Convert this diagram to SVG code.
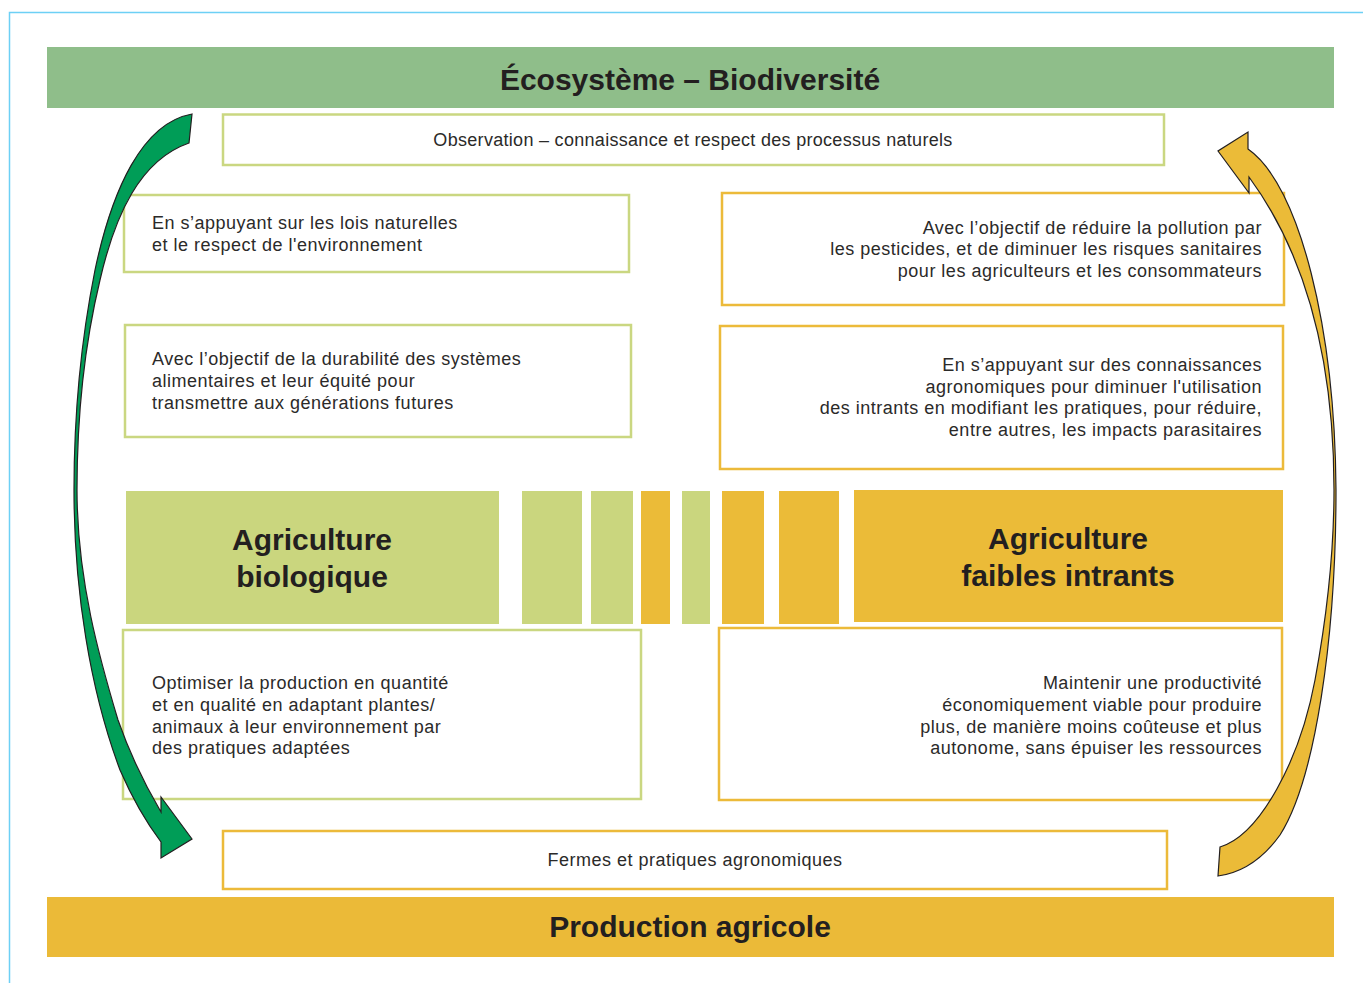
<svg xmlns="http://www.w3.org/2000/svg" width="1363" height="983" viewBox="0 0 1363 983">
<style>
.bar-g{fill:#8FBE8A}
.bar-y{fill:#EBBA38}
.box-g{fill:#FFFFFF;stroke:#CAD781;stroke-width:2.5}
.box-y{fill:#FFFFFF;stroke:#ECBA3A;stroke-width:2.5}
.fill-g{fill:#CAD67E}
.fill-y{fill:#EBBB38}
.title{font-family:"Liberation Sans",Arial,sans-serif;font-weight:bold;font-size:30px;fill:#231F20;text-anchor:middle}
.head{font-family:"Liberation Sans",Arial,sans-serif;font-weight:bold;font-size:30px;fill:#231F20;text-anchor:middle}
.body{font-family:"Liberation Sans",Arial,sans-serif;font-size:18px;letter-spacing:0.5px;fill:#2B2A29}
.obs{letter-spacing:0.3px}
.mid{text-anchor:middle}
.end{text-anchor:end}
.arrow{stroke:#231F20;stroke-width:1.2;stroke-linejoin:miter}
</style>
<rect width="1363" height="983" fill="#FFFFFF"/>
<g id="frame">
<path d="M9.5,983 L9.5,12.5 L1363,12.5" fill="none" stroke="#6DD0F5" stroke-width="1.5"/>
</g>
<g id="ecosysteme">
<rect class="bar-g" x="47" y="47" width="1287" height="61"/>
<text class="title" x="690" y="90">Écosystème – Biodiversité</text>
</g>
<g id="observation">
<rect class="box-g" x="223" y="114.5" width="941" height="50.5"/>
<text class="body obs mid" x="693" y="146">Observation – connaissance et respect des processus naturels</text>
</g>
<g id="lois-naturelles">
<rect class="box-g" x="124" y="195" width="505" height="77"/>
<text class="body" x="152" y="229">En s’appuyant sur les lois naturelles</text>
<text class="body" x="152" y="251">et le respect de l'environnement</text>
</g>
<g id="durabilite">
<rect class="box-g" x="125" y="325" width="506" height="112"/>
<text class="body" x="152" y="365">Avec l’objectif de la durabilité des systèmes</text>
<text class="body" x="152" y="387">alimentaires et leur équité pour</text>
<text class="body" x="152" y="409">transmettre aux générations futures</text>
</g>
<g id="pollution">
<rect class="box-y" x="722" y="193" width="562" height="112"/>
<text class="body end" x="1262" y="234">Avec l’objectif de réduire la pollution par</text>
<text class="body end" x="1262" y="255">les pesticides, et de diminuer les risques sanitaires</text>
<text class="body end" x="1262" y="277">pour les agriculteurs et les consommateurs</text>
</g>
<g id="connaissances">
<rect class="box-y" x="720" y="326" width="563" height="143"/>
<text class="body end" x="1262" y="371">En s’appuyant sur des connaissances</text>
<text class="body end" x="1262" y="393">agronomiques pour diminuer l'utilisation</text>
<text class="body end" x="1262" y="414">des intrants en modifiant les pratiques, pour réduire,</text>
<text class="body end" x="1262" y="436">entre autres, les impacts parasitaires</text>
</g>
<g id="agriculture-biologique">
<rect class="fill-g" x="126" y="491" width="373" height="133"/>
<text class="head" x="312" y="550">Agriculture</text>
<text class="head" x="312" y="587">biologique</text>
</g>
<g id="transition">
<rect class="fill-g" x="522" y="491" width="60" height="133"/>
<rect class="fill-g" x="591" y="491" width="42" height="133"/>
<rect class="fill-y" x="641" y="491" width="29" height="133"/>
<rect class="fill-g" x="682" y="491" width="28" height="133"/>
<rect class="fill-y" x="722" y="491" width="42" height="133"/>
<rect class="fill-y" x="779" y="491" width="60" height="133"/>
</g>
<g id="agriculture-faibles-intrants">
<rect class="fill-y" x="854" y="490" width="429" height="132"/>
<text class="head" x="1068" y="549">Agriculture</text>
<text class="head" x="1068" y="586">faibles intrants</text>
</g>
<g id="optimiser">
<rect class="box-g" x="123" y="630" width="518" height="169"/>
<text class="body" x="152" y="689">Optimiser la production en quantité</text>
<text class="body" x="152" y="711">et en qualité en adaptant plantes/</text>
<text class="body" x="152" y="733">animaux à leur environnement par</text>
<text class="body" x="152" y="754">des pratiques adaptées</text>
</g>
<g id="maintenir">
<rect class="box-y" x="719" y="628" width="563" height="172"/>
<text class="body end" x="1262" y="689">Maintenir une productivité</text>
<text class="body end" x="1262" y="711">économiquement viable pour produire</text>
<text class="body end" x="1262" y="733">plus, de manière moins coûteuse et plus</text>
<text class="body end" x="1262" y="754">autonome, sans épuiser les ressources</text>
</g>
<g id="fermes">
<rect class="box-y" x="223" y="831" width="944" height="58"/>
<text class="body mid" x="695" y="866">Fermes et pratiques agronomiques</text>
</g>
<g id="production">
<rect class="bar-y" x="47" y="897" width="1287" height="60"/>
<text class="title" x="690" y="937">Production agricole</text>
</g>
<g id="connectors">
<path class="arrow" fill="#009D57" d="M192,114 C142,123 112,190 95,270 C80,345 74,420 74,490 C74,590 90,690 120,770 C133,800 146,822 161,842 L161,858 L192,839 L161,797 L161,812 C148,790 132,760 118,720 C100,660 77,580 77,490 C77,400 88,330 100,280 C115,215 140,160 189,143 Z"/>
<path class="arrow" fill="#EBBB38" d="M1248,132 L1248,149 C1300,185 1335,330 1336,490 C1336,640 1315,780 1280,835 C1262,860 1240,873 1218,876 L1220,847 C1260,835 1300,760 1315,680 C1328,610 1334,550 1334,490 C1334,370 1310,260 1249,177 L1249,193 L1218,151 Z"/>
</g>
</svg>
